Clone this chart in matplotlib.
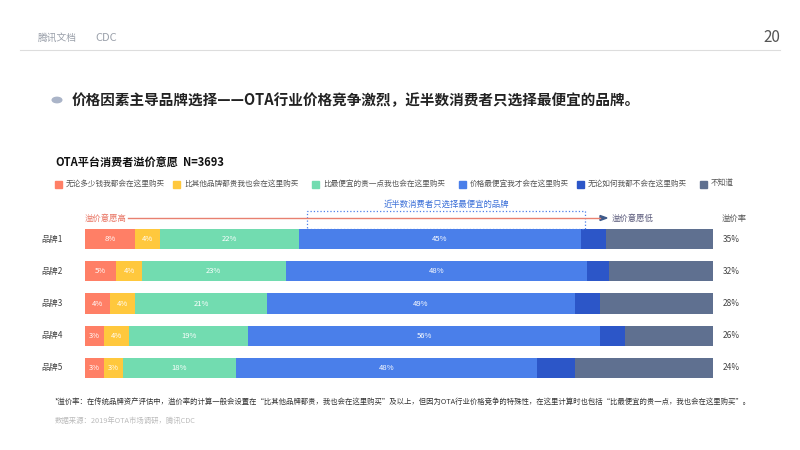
import matplotlib.pyplot as plt
from matplotlib.patches import Rectangle

plt.rcParams['font.family'] = ['Noto Sans CJK SC', 'DejaVu Sans']

brands = ['品牌1', '品牌2', '品牌3', '品牌4', '品牌5']
cats = ['无论多少钱我都会在这里购买', '比其他品牌都贵我也会在这里购买', '比最便宜的贵一点我也会在这里购买',
        '价格最便宜我才会在这里购买', '无论如何我都不会在这里购买', '不知道']
vals = [
    [8, 4, 22, 45, 4, 17],
    [5, 4, 23, 48, 3.5, 16.5],
    [4, 4, 21, 49, 4, 18],
    [3, 4, 19, 56, 4, 14],
    [3, 3, 18, 48, 6, 22],
]
premium = ['35%', '32%', '28%', '26%', '24%']
colors = ['#FF7F66', '#FFC83D', '#72DCB0', '#4A7FEA', '#2C56C8', '#5F7090']

fig = plt.figure(figsize=(8, 4.5), dpi=100)
W, H = 800, 450
def T(x, y, s, **kw):
    fig.text(x / W, 1 - y / H, s, **kw)

# header
T(38, 38, '腾讯文档', fontsize=7, color='#9AA0AA', va='center')
T(95, 38, 'CDC', fontsize=8, color='#9AA0AA', va='center')
T(780, 37, '20', fontsize=11, color='#555555', style='italic', ha='right', va='center')
fig.add_artist(plt.Line2D([20 / W, 780 / W], [1 - 50 / H] * 2, color='#DDDDDD', lw=0.8))
fig.add_artist(plt.Circle((57 / W, 1 - 100 / H), 0.006, transform=fig.transFigure, color='#AAB4C8'))
T(72, 100, '价格因素主导品牌选择——OTA行业价格竞争激烈，近半数消费者只选择最便宜的品牌。',
  fontsize=10.5, weight='bold', color='#222222', va='center')
T(55, 163, 'OTA平台消费者溢价意愿', fontsize=8, weight='bold', color='#111111', va='center')
T(183, 163, 'N=3693', fontsize=8, weight='bold', color='#111111', va='center')

# legend
lx = [55, 173, 312, 459, 577, 700]
for x, c, lab in zip(lx, colors, cats):
    fig.add_artist(Rectangle((x / W, 1 - 188 / H), 7 / W, 7 / H, transform=fig.transFigure, color=c))
    T(x + 11, 184, lab, fontsize=5.5, color='#555555', va='center')

# arrow line
fig.add_artist(plt.Line2D([128 / W, 600 / W], [1 - 218 / H] * 2, color='#E88070', lw=1))
fig.add_artist(plt.Polygon([(600 / W, 1 - 215.5 / H), (607 / W, 1 - 218 / H), (600 / W, 1 - 220.5 / H)],
                           transform=fig.transFigure, color='#3E5A8A'))
T(85, 218, '溢价意愿高', fontsize=6, color='#E8705E', va='center')
T(612, 218, '溢价意愿低', fontsize=6, color='#555577', va='center')
T(722, 218, '溢价率', fontsize=6, color='#555555', va='center')
fig.add_artist(Rectangle((307 / W, 1 - 229 / H), 278 / W, 18 / H, transform=fig.transFigure,
                         fill=False, ec='#4A7FEA', ls=':', lw=0.9))
T(446, 204, '近半数消费者只选择最便宜的品牌', fontsize=6, color='#3A6FD8', ha='center', va='center')

# bars
ax = fig.add_axes([85 / W, 1 - 384 / H, 628 / W, 161 / H])
for i, row in enumerate(vals):
    left = 0
    for j, v in enumerate(row):
        ax.barh(i, v, left=left, height=0.63, color=colors[j])
        if j < 4:
            ax.text(left + v / 2, i, f'{v:g}%', ha='center', va='center', fontsize=5.5, color='white')
        left += v
    ax.text(-3.5, i, brands[i], ha='right', va='center', fontsize=6, color='#444444')
    ax.text(101.5, i, premium[i], ha='left', va='center', fontsize=6, color='#444444')
ax.set_xlim(0, 100)
ax.set_ylim(4.5, -0.5)
ax.axis('off')

T(55, 402, '*溢价率：在传统品牌资产评估中，溢价率的计算一般会设置在“比其他品牌都贵，我也会在这里购买”及以上，但因为OTA行业价格竞争的特殊性，在这里计算时也包括“比最便宜的贵一点，我也会在这里购买”。',
  fontsize=5.3, color='#333333', va='center')
T(55, 421, '数据来源：2019年OTA市场调研，腾讯CDC', fontsize=5.3, color='#BBBBBB', va='center')

fig.savefig('out.png', dpi=100)
